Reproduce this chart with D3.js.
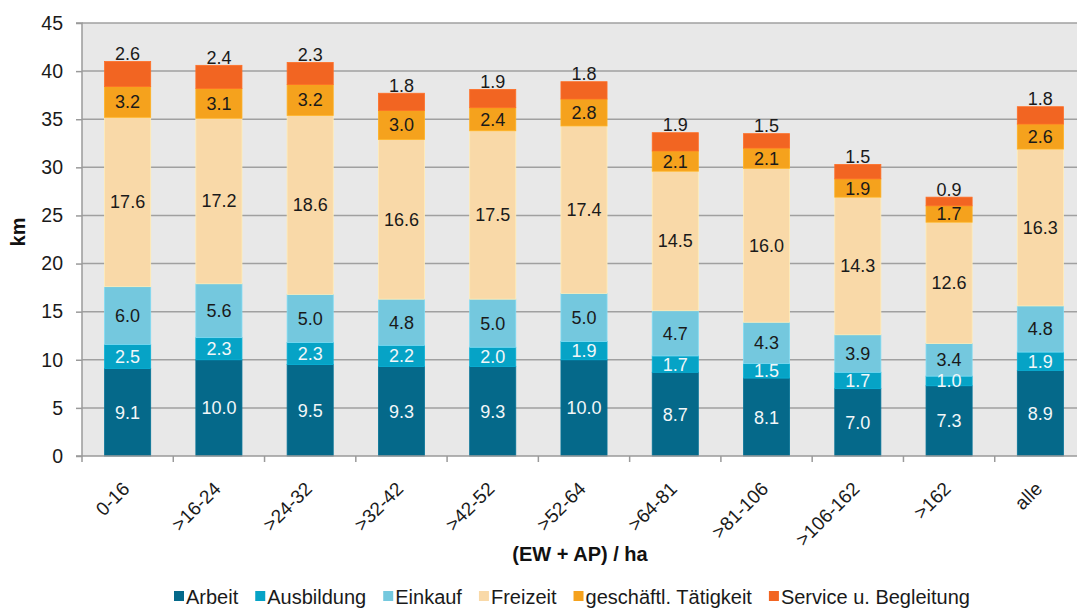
<!DOCTYPE html>
<html><head><meta charset="utf-8">
<script src="https://cdn.jsdelivr.net/npm/d3@7"></script>
<style>body{margin:0;background:#fff;} svg{display:block;font-family:"Liberation Sans",Arial,sans-serif;}</style>
</head><body><svg id="c" width="1077" height="608"></svg>
<script>
const categories = ["0-16", ">16-24", ">24-32", ">32-42", ">42-52", ">52-64", ">64-81", ">81-106", ">106-162", ">162", "alle"];
const seriesNames = ["Arbeit", "Ausbildung", "Einkauf", "Freizeit", "geschäftl. Tätigkeit", "Service u. Begleitung"];
const arbeit = [9.1, 10.0, 9.5, 9.3, 9.3, 10.0, 8.7, 8.1, 7.0, 7.3, 8.9];
const ausbildung = [2.5, 2.3, 2.3, 2.2, 2.0, 1.9, 1.7, 1.5, 1.7, 1.0, 1.9];
const einkauf = [6.0, 5.6, 5.0, 4.8, 5.0, 5.0, 4.7, 4.3, 3.9, 3.4, 4.8];
const freizeit = [17.6, 17.2, 18.6, 16.6, 17.5, 17.4, 14.5, 16.0, 14.3, 12.6, 16.3];
const geschaeftl = [3.2, 3.1, 3.2, 3.0, 2.4, 2.8, 2.1, 2.1, 1.9, 1.7, 2.6];
const service = [2.6, 2.4, 2.3, 1.8, 1.9, 1.8, 1.9, 1.5, 1.5, 0.9, 1.8];
const yTicks = [0, 5, 10, 15, 20, 25, 30, 35, 40, 45];
const colors = ["#05698a", "#06a3c6", "#74c8de", "#f9d9a8", "#f5a21d", "#f26522"];
const labelColors = ["#f2f7f9", "#f2f7f9", "#1a1a1a", "#1a1a1a", "#1a1a1a", "#1a1a1a"];

(function () {
const seriesValues = [arbeit, ausbildung, einkauf, freizeit, geschaeftl, service];
const rows = categories.map((c, i) => {
  const r = {cat: c};
  seriesNames.forEach((s, j) => r[s] = seriesValues[j][i]);
  return r;
});
const stacked = d3.stack().keys(seriesNames)(rows);

const svg = d3.select("#c");
const pL = 82, pR = 1086, pT = 23, pB = 456;
const x = d3.scaleBand().domain(categories).range([pL, pR]).paddingInner(0.495).paddingOuter(0.2475);
const y = d3.scaleLinear().domain([0, 45]).range([pB, pT]);

svg.append("rect").attr("x", pL).attr("y", pT).attr("width", pR - pL).attr("height", pB - pT).attr("fill", "#e8e8e8");

svg.append("g").selectAll("line").data(yTicks.filter(d => d > 0)).join("line")
  .attr("x1", pL).attr("x2", pR).attr("y1", d => y(d)).attr("y2", d => y(d))
  .attr("stroke", "#a0a0a0").attr("stroke-width", 1.5);

const g = svg.append("g");
stacked.forEach((layer, j) => {
  g.append("g").selectAll("rect").data(layer).join("rect")
    .attr("x", d => x(d.data.cat)).attr("width", x.bandwidth())
    .attr("y", d => y(d[1])).attr("height", d => y(d[0]) - y(d[1]))
    .attr("fill", colors[j])
    .attr("stroke", d3.color(colors[j]).brighter(0.25)).attr("stroke-width", 0.8);
});

stacked.forEach((layer, j) => {
  const last = j === stacked.length - 1;
  g.append("g").selectAll("text").data(layer).join("text")
    .attr("x", d => x(d.data.cat) + x.bandwidth() / 2)
    .attr("y", d => last ? y(d[1]) - 1.5 : (y(d[0]) + y(d[1])) / 2)
    .attr("dy", last ? 0 : "0.36em")
    .attr("text-anchor", "middle")
    .attr("font-size", 18)
    .attr("fill", labelColors[j])
    .text(d => (d[1] - d[0]).toFixed(1));
});

const yAxis = d3.axisLeft(y).tickValues(yTicks).tickSize(6).tickPadding(13);
const ya = svg.append("g").attr("transform", `translate(${pL},0)`).call(yAxis);
ya.select(".domain").attr("stroke", "#9a9a9a").attr("stroke-width", 1.5).attr("d", `M-6,${pB}H0V${pT}H-6`);
ya.selectAll(".tick line").attr("stroke", "#9a9a9a").attr("stroke-width", 1.5);
ya.selectAll(".tick text").attr("font-size", 19.5).attr("fill", "#1a1a1a").attr("font-family", "Liberation Sans, Arial, sans-serif");

const xa = svg.append("g");
xa.append("line").attr("x1", pL).attr("x2", pR).attr("y1", pB).attr("y2", pB).attr("stroke", "#9a9a9a").attr("stroke-width", 1.5);
const tickPos = categories.map((c) => x(c) - x.step() * x.paddingInner() / 2);
xa.selectAll("line.t").data(tickPos).join("line").attr("class", "t")
  .attr("x1", d => d).attr("x2", d => d).attr("y1", pB).attr("y2", pB + 6)
  .attr("stroke", "#9a9a9a").attr("stroke-width", 1.5);
xa.selectAll("text").data(categories).join("text")
  .attr("transform", d => `translate(${x(d) + x.bandwidth() / 2 + 3},${pB + 34}) rotate(-45)`)
  .attr("text-anchor", "end")
  .attr("font-size", 19).attr("fill", "#1a1a1a")
  .text(d => d);

svg.append("text").attr("transform", `translate(25,232) rotate(-90)`)
  .attr("text-anchor", "middle").attr("font-size", 20).attr("font-weight", "bold").attr("fill", "#111").text("km");
svg.append("text").attr("x", 580).attr("y", 561).attr("text-anchor", "middle")
  .attr("font-size", 20).attr("font-weight", "bold").attr("fill", "#111").text("(EW + AP) / ha");

const leg = svg.append("g");
let cx = 0;
seriesNames.forEach((s, j) => {
  const it = leg.append("g");
  it.append("rect").attr("x", 0).attr("y", -13).attr("width", 10).attr("height", 10).attr("fill", colors[j]);
  const t = it.append("text").attr("x", 12).attr("y", 0).attr("font-size", 20).attr("fill", "#1a1a1a").text(s);
  const w = 12 + t.node().getComputedTextLength();
  it.attr("transform", `translate(${cx},0)`);
  cx += w + 17;
});
leg.attr("transform", `translate(174,604)`);
})();
</script></body></html>
